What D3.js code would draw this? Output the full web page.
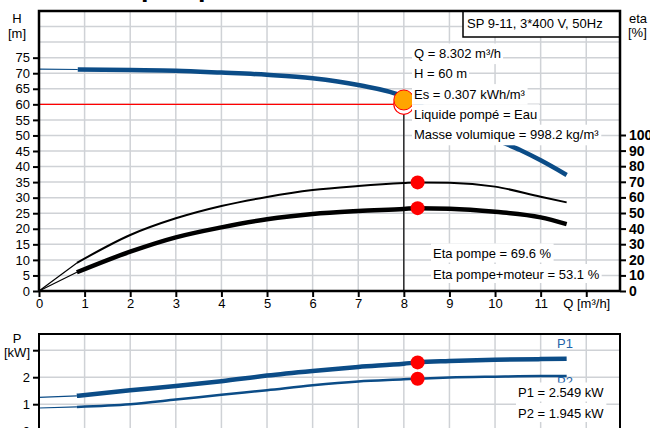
<!DOCTYPE html>
<html>
<head>
<meta charset="utf-8">
<script src="https://cdn.jsdelivr.net/npm/d3@7"></script>
<style>
    html, body { margin: 0; padding: 0; background: #fff; overflow: hidden; }
    svg text { font-family: "Liberation Sans", Arial, sans-serif; }
</style>
</head>
<body>
<div id="ground"></div>
<script>
// curve data
const hAtZero = 71.3;
const qH = [0.85, 2, 3, 4, 5, 6, 7, 8, 8.302, 9, 10, 10.55, 11, 11.57];
const hVals = [71.2, 71.0, 70.8, 70.2, 69.5, 68.4, 66.2, 62.4, 60.0, 55.5, 48.8, 45.3, 42.0, 37.3];

const qPts = [0.83, 2, 3, 4, 5, 6, 7, 8, 8.302, 9, 10, 11, 11.57];
const etaPump = [18, 35.9, 46.6, 54.5, 60.3, 64.7, 67.3, 69.2, 69.6, 69.4, 66.9, 60.4, 56.8];
const etaTotal = [12, 25.2, 34.4, 40.8, 46, 49.4, 51.3, 52.6, 53.1, 52.8, 50.8, 47.2, 42.9];
const p1Vals = [1.31, 1.52, 1.67, 1.85, 2.06, 2.23, 2.38, 2.50, 2.549, 2.60, 2.65, 2.67, 2.68];
const p2Vals = [0.90, 1.0, 1.17, 1.35, 1.52, 1.70, 1.84, 1.92, 1.945, 1.99, 2.02, 2.04, 2.04];
const p1AtZero = 1.25, p2AtZero = 0.86;

const duty = {q: 8.302, h: 60, eta: 69.6, etaTot: 53.1, p1: 2.549, p2: 1.945};
const request = {q: 8, h: 60, hCurve: 61.4};

const xTicks = [0, 1, 2, 3, 4, 5, 6, 7, 8, 9, 10, 11, 12];
const hTicks = [0, 5, 10, 15, 20, 25, 30, 35, 40, 45, 50, 55, 60, 65, 70, 75];
const hGrid = [5, 10, 15, 20, 25, 30, 35, 40, 45, 50, 55, 60, 65, 70, 75, 80, 85];
const etaTicks = [0, 10, 20, 30, 40, 50, 60, 70, 80, 90, 100];
const pTicks = [0, 1, 2, 3];

const infoLines = ["Q = 8.302 m³/h", "H = 60 m", "Es = 0.307 kWh/m³", "Liquide pompé = Eau", "Masse volumique = 998.2 kg/m³"];
const etaLines = ["Eta pompe = 69.6 %", "Eta pompe+moteur = 53.1 %"];
const powerLines = ["P1 = 2.549 kW", "P2 = 1.945 kW"];

document.addEventListener("DOMContentLoaded", function () {

    const W = 650, H = 428,
        blue = "#0b4c87", grid = "#cfd2d6";

    const svg = d3.select("#ground").append("svg")
        .attr("width", W).attr("height", H);

    const x = d3.scaleLinear().domain([0, 12.74]).range([39, 620]);
    const yH = d3.scaleLinear().domain([0, 90]).range([291, 11]);
    const yEta = d3.scaleLinear().domain([0, 100]).range([291, 135]);
    const yP = d3.scaleLinear().domain([0, 3.6]).range([431.2, 334]);

    // title, only its descenders fall inside the picture
    svg.append("text").attr("x", 0).attr("y", -4)
        .attr("font-size", 27).attr("font-weight", "bold")
        .text("Courbe de pompe");

    // grids
    let gr = svg.append("g").attr("stroke", grid).attr("stroke-width", 1.5);
    xTicks.slice(1).forEach(function (q) {
        gr.append("line").attr("x1", x(q)).attr("x2", x(q)).attr("y1", yH(90)).attr("y2", yH(0));
        gr.append("line").attr("x1", x(q)).attr("x2", x(q)).attr("y1", yP(3.6)).attr("y2", H);
    });
    hGrid.forEach(function (h) {
        gr.append("line").attr("x1", x(0)).attr("x2", 620).attr("y1", yH(h)).attr("y2", yH(h));
    });
    [1, 2, 3].forEach(function (p) {
        gr.append("line").attr("x1", x(0)).attr("x2", 620).attr("y1", yP(p)).attr("y2", yP(p));
    });

    let line = function (ys) {
        return d3.line().x(d => x(d[0])).y(d => ys(d[1])).curve(d3.curveMonotoneX);
    };
    let zip = (a, b) => a.map((v, i) => [v, b[i]]);

    let drawPair = function (scale, first, pts, color, w) {
        svg.append("path").attr("d", d3.line().x(d => x(d[0])).y(d => scale(d[1]))([first, pts[0]]))
            .attr("fill", "none").attr("stroke", color).attr("stroke-width", 1.2);
        svg.append("path").attr("d", line(scale)(pts))
            .attr("fill", "none").attr("stroke", color).attr("stroke-width", w)
            .attr("stroke-linecap", "butt");
    };

    // H curve
    drawPair(yH, [0, hAtZero], zip(qH, hVals), blue, 4.5);
    // efficiency curves
    drawPair(yEta, [0, 0], zip(qPts, etaPump), "#000", 2);
    drawPair(yEta, [0, 0], zip(qPts, etaTotal), "#000", 4.5);
    // power curves
    drawPair(yP, [0, p1AtZero], zip(qPts, p1Vals), blue, 4.5);
    drawPair(yP, [0, p2AtZero], zip(qPts, p2Vals), blue, 2.5);

    // requested duty point
    svg.append("line").attr("x1", x(0)).attr("x2", x(request.q))
        .attr("y1", yH(request.h)).attr("y2", yH(request.h))
        .attr("stroke", "#f00").attr("stroke-width", 1.2);
    svg.append("line").attr("x1", x(request.q)).attr("x2", x(request.q))
        .attr("y1", yH(request.h) + 8).attr("y2", yH(0))
        .attr("stroke", "#000").attr("stroke-width", 1.2);
    svg.append("circle").attr("cx", x(request.q)).attr("cy", yH(request.h)).attr("r", 10)
        .attr("fill", "#fff").attr("stroke", "#f00").attr("stroke-width", 1.2);
    svg.append("circle").attr("cx", x(request.q)).attr("cy", yH(request.hCurve)).attr("r", 10)
        .attr("fill", "#ffa500").attr("stroke", "#f00").attr("stroke-width", 1);

    // text blocks with white backing, one row tall so stacked rows join up
    let label = function (tx, ty, str, rowH, color) {
        let g = svg.append("g");
        let t = g.append("text").attr("x", tx).attr("y", ty)
            .attr("font-size", 13).attr("fill", color || "#000").text(str);
        let b = t.node().getBBox();
        g.insert("rect", "text").attr("x", b.x - 2).attr("y", ty - 14.5)
            .attr("width", b.width + 4).attr("height", rowH).attr("fill", "#fff");
        return g;
    };

    // operating point dots
    [[yEta, duty.eta], [yEta, duty.etaTot], [yP, duty.p1], [yP, duty.p2]].forEach(function (d) {
        svg.append("circle").attr("cx", x(duty.q)).attr("cy", d[0](d[1])).attr("r", 7).attr("fill", "#f00");
    });

    infoLines.forEach(function (s, i) {
        label(414, 58 + i * 20.3, s, 20.6);
    });
    etaLines.forEach(function (s, i) {
        label(433, 258 + i * 20.5, s, 19);
    });

    svg.append("text").attr("x", 557).attr("y", 348).attr("font-size", 13).attr("fill", "#1f63a8").text("P1");
    svg.append("text").attr("x", 557).attr("y", 386).attr("font-size", 13).attr("fill", "#1f63a8").text("P2");
    powerLines.forEach(function (s, i) {
        label(518, 397 + i * 20.5, s, 19);
    });

    // product box
    let box = svg.append("g");
    box.append("rect").attr("x", 463).attr("y", 11).attr("width", 157).attr("height", 26)
        .attr("fill", "#fff").attr("stroke", "#000").attr("stroke-width", 1.5);
    box.append("text").attr("x", 467).attr("y", 28).attr("font-size", 13).text("SP 9-11, 3*400 V, 50Hz");

    // axes
    let styleAxis = function (g, size, weight) {
        g.selectAll(".domain").remove();
        g.selectAll(".tick line").attr("stroke", "#000").attr("stroke-width", 2);
        g.selectAll(".tick text").attr("font-size", size).attr("font-weight", weight || "normal")
            .attr("font-family", "'Liberation Sans', Arial, sans-serif").attr("fill", "#000");
    };

    let ax = svg.append("g").attr("transform", "translate(0," + yH(0) + ")")
        .call(d3.axisBottom(x).tickValues(xTicks).tickSize(6).tickPadding(2)
            .tickFormat(d => d === 12 ? "Q [m³/h]" : d));
    styleAxis(ax, 13);

    let ay = svg.append("g").attr("transform", "translate(" + x(0) + ",0)")
        .call(d3.axisLeft(yH).tickValues(hTicks).tickSize(6).tickPadding(3));
    styleAxis(ay, 13);

    let ae = svg.append("g").attr("transform", "translate(620,0)")
        .call(d3.axisRight(yEta).tickValues(etaTicks).tickSize(6).tickPadding(3));
    styleAxis(ae, 14, "bold");

    let ap = svg.append("g").attr("transform", "translate(" + x(0) + ",0)")
        .call(d3.axisLeft(yP).tickValues(pTicks).tickSize(6).tickPadding(3)
            .tickFormat(d => d === 3 ? "" : d));
    styleAxis(ap, 13);

    // frames
    let fr = svg.append("g").attr("stroke", "#000").attr("fill", "none");
    fr.append("path").attr("d", "M" + x(0) + "," + yH(0) + "V" + yH(90) + "H620V" + yH(0))
        .attr("stroke-width", 2.5);
    fr.append("line").attr("x1", x(0)).attr("x2", 620).attr("y1", yH(0)).attr("y2", yH(0)).attr("stroke-width", 2.5);
    fr.append("path").attr("d", "M" + x(0) + "," + H + "V" + yP(3.6) + "H620V" + H)
        .attr("stroke-width", 2);

    // axis titles
    let title = function (tx, ty, str, anchor) {
        svg.append("text").attr("x", tx).attr("y", ty).attr("font-size", 13)
            .attr("text-anchor", anchor || "middle").text(str);
    };
    title(17, 23, "H");
    title(17, 38, "[m]");
    title(629, 23, "eta", "start");
    title(628, 37, "[%]", "start");
    title(17, 343, "P");
    title(17, 357, "[kW]");
});
</script>
</body>
</html>
